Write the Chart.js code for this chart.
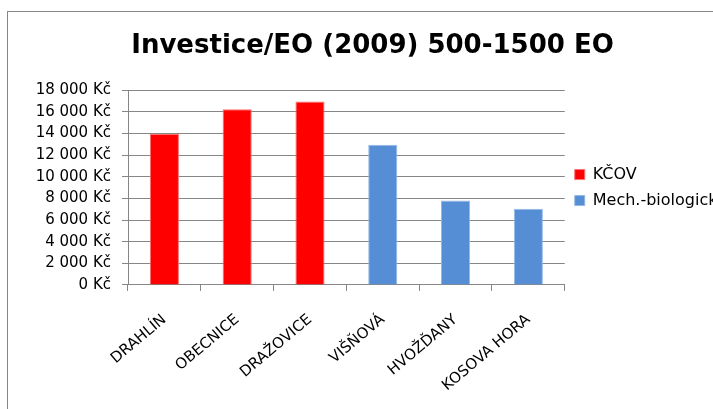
<!DOCTYPE html>
<html>
<head>
<meta charset="utf-8">
<script src="https://cdn.jsdelivr.net/npm/chart.js@4"></script>
<style>
  html, body { margin: 0; padding: 0; background: #fff; overflow: hidden; }
  #frame {
    position: absolute; left: 7px; top: 11px;
    width: 729px; height: 430px;
    border: 1px solid #868686; background: #fff;
  }
  #wrap { position: relative; width: 729px; height: 413px; }
</style>
</head>
<body>
<div id="frame"><div id="wrap"><canvas id="invChart"></canvas></div></div>
<script>
const categories = ['DRAHLÍN', 'OBECNICE', 'DRAŽOVICE', 'VIŠŇOVÁ', 'HVOŽĎANY', 'KOSOVA HORA'];
const kcovValues = [13950, 16250, 16950, null, null, null];
const mechValues = [null, null, null, 12950, 7800, 7050];
const yTicks = [0, 2000, 4000, 6000, 8000, 10000, 12000, 14000, 16000, 18000];

const fmtKc = v => String(v).replace(/\B(?=(\d{3})+(?!\d))/g, ' ') + ' Kč';

document.addEventListener('DOMContentLoaded', () => {
    const ctx = document.getElementById('invChart').getContext('2d');
    new Chart(ctx, {
        type: 'bar',
        data: {
            labels: categories,
            datasets: [{
                label: 'KČOV',
                data: kcovValues,
                backgroundColor: '#ff0000',
                borderColor: '#ff7070',
                borderWidth: 1,
                categoryPercentage: 0.4,
                barPercentage: 1
            }, {
                label: 'Mech.-biologická',
                data: mechValues,
                backgroundColor: '#558ed5',
                borderColor: '#95b8e6',
                borderWidth: 1,
                categoryPercentage: 0.4,
                barPercentage: 1
            }]
        },
        options: {
            responsive: true,
            maintainAspectRatio: false,
            animation: false,
            skipNull: true,
            layout: { padding: { left: 0, right: 0, top: 0, bottom: 10 } },
            plugins: {
                title: {
                    display: true,
                    text: 'Investice/EO (2009) 500-1500 EO',
                    color: '#000',
                    font: { family: 'DejaVu Sans', size: 26, weight: 'bold' },
                    padding: { top: 19, bottom: 28 }
                },
                legend: {
                    position: 'right',
                    fullSize: false,
                    labels: {
                        boxWidth: 10,
                        boxHeight: 10,
                        color: '#000',
                        font: { family: 'DejaVu Sans', size: 16 }
                    }
                },
                tooltip: { enabled: false }
            },
            scales: {
                x: {
                    grid: { drawOnChartArea: false, color: '#868686', tickLength: 6 },
                    border: { color: '#868686' },
                    ticks: {
                        color: '#000',
                        font: { family: 'DejaVu Sans', size: 15 },
                        minRotation: 40,
                        maxRotation: 40,
                        padding: 20
                    }
                },
                y: {
                    min: 0,
                    max: 18000,
                    afterBuildTicks: axis => { axis.ticks = yTicks.map(v => ({ value: v })); },
                    afterFit: axis => { axis.width = 120; },
                    grid: { color: '#868686', tickLength: 6 },
                    border: { color: '#868686' },
                    ticks: {
                        autoSkip: false,
                        color: '#000',
                        font: { family: 'DejaVu Sans', size: 15 },
                        padding: 11,
                        callback: v => fmtKc(v)
                    }
                }
            }
        }
    });
});
</script>
</body>
</html>
